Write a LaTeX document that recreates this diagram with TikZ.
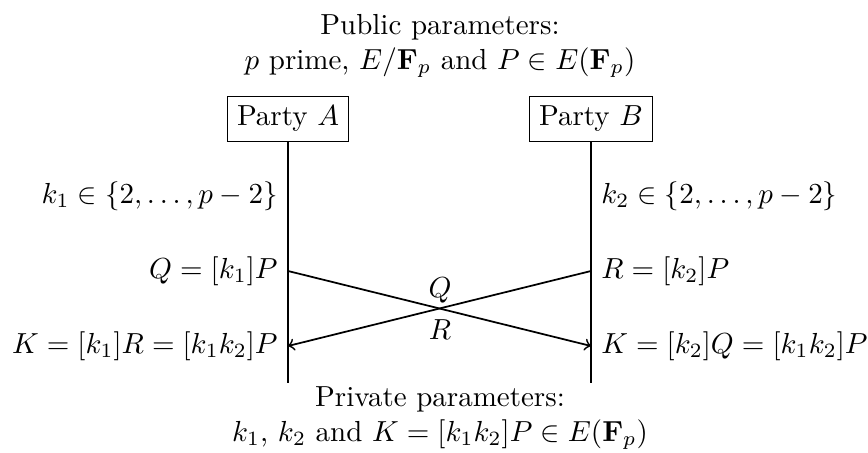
\documentclass[tikz,border=0pt]{standalone}
\usepackage{amsmath}
\begin{document}
\begin{tikzpicture}[x=0.3448pt,y=-0.3448pt,
  party/.style={draw,thin,inner sep=3.33pt},
  life/.style={semithick},
  msg/.style={semithick,->},
  lbl/.style={inner sep=2pt}]
\useasboundingbox (0,0) rectangle (868,453);
\node[align=center] (pub) at (440,46) {Public parameters:\\$p$ prime, $E/\mathbf{F}_p$ and $P\in E(\mathbf{F}_p)$};
\node[party] (A) at (288,119) {Party $A$};
\node[party] (B) at (591,119) {Party $B$};
\coordinate (Aend) at (288,383);
\coordinate (Bend) at (591,383);
\draw[life] (A.south) -- (Aend);
\draw[life] (B.south) -- (Bend);
\coordinate (A1) at (288,271);
\coordinate (A2) at (288,346);
\coordinate (B1) at (591,271);
\coordinate (B2) at (591,346);
\node[lbl,anchor=east] (ka) at (284,196) {$k_1\in\{2,\dots,p-2\}$};
\node[lbl,anchor=west] (kb) at (595,196) {$k_2\in\{2,\dots,p-2\}$};
\node[lbl,anchor=east] (qa) at (284,271) {$Q=[k_1]P$};
\node[lbl,anchor=west] (rb) at (595,271) {$R=[k_2]P$};
\node[lbl,anchor=east] (Ka) at (284,346) {$K=[k_1]R=[k_1k_2]P$};
\node[lbl,anchor=west] (Kb) at (595,346) {$K=[k_2]Q=[k_1k_2]P$};
\draw[msg] (A1) -- (B2);
\draw[msg] (B1) -- (A2);
\node (lq) at (440,290) {$Q$};
\node (lr) at (440,330) {$R$};
\node[align=center] (priv) at (440,418) {Private parameters:\\$k_1$, $k_2$ and $K=[k_1k_2]P\in E(\mathbf{F}_p)$};
\end{tikzpicture}
\end{document}
